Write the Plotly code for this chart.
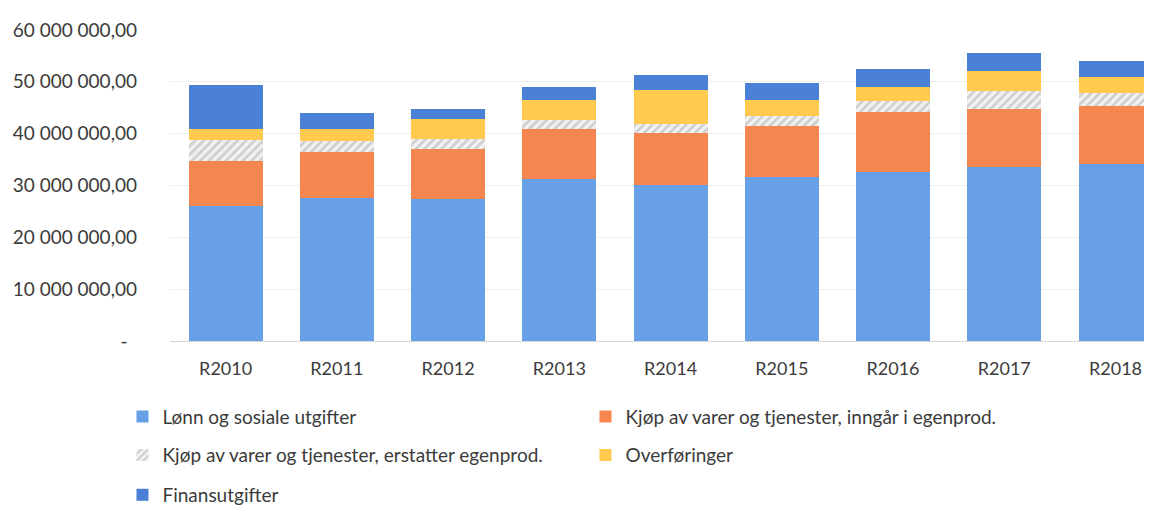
import plotly.graph_objects as go

categories = ["R2010", "R2011", "R2012", "R2013", "R2014", "R2015", "R2016", "R2017", "R2018"]

lonn = [26_060_000, 27_620_000, 27_350_000, 31_180_000, 30_190_000, 31_640_000, 32_550_000, 33_540_000, 34_150_000]
kjop_inngar = [8_700_000, 8_890_000, 9_640_000, 9_640_000, 9_850_000, 9_830_000, 11_620_000, 11_130_000, 11_180_000]
kjop_erstatter = [4_000_000, 2_100_000, 1_910_000, 1_790_000, 1_900_000, 1_900_000, 2_040_000, 3_480_000, 2_540_000]
overforinger = [2_230_000, 2_230_000, 4_000_000, 3_920_000, 6_480_000, 3_180_000, 2_720_000, 3_950_000, 2_990_000]
finans = [8_380_000, 3_160_000, 1_900_000, 2_420_000, 2_910_000, 3_180_000, 3_510_000, 3_540_000, 3_180_000]

series_names = [
    "Lønn og sosiale utgifter",
    "Kjøp av varer og tjenester, inngår i egenprod.",
    "Kjøp av varer og tjenester, erstatter egenprod.",
    "Overføringer",
    "Finansutgifter",
]

y_tick_vals = [0, 10_000_000, 20_000_000, 30_000_000, 40_000_000, 50_000_000, 60_000_000]
y_tick_text = ["-\u2002", "10 000 000,00", "20 000 000,00", "30 000 000,00",
               "40 000 000,00", "50 000 000,00", "60 000 000,00"]

FONT = "Lato"
TXT = "#3b3b3b"

fig = go.Figure()
fig.add_trace(go.Bar(x=categories, y=lonn, name=series_names[0],
                     marker=dict(color="#67a0e6", line=dict(width=0)), legend="legend"))
fig.add_trace(go.Bar(x=categories, y=kjop_inngar, name=series_names[1],
                     marker=dict(color="#f5864f", line=dict(width=0)), legend="legend"))
fig.add_trace(go.Bar(x=categories, y=kjop_erstatter, name=series_names[2],
                     marker=dict(color="#c8c8c8", line=dict(width=0),
                                 pattern=dict(shape="/", fgcolor="#a9a9a9", bgcolor="#f2f2f2",
                                              size=6, solidity=0.45)),
                     legend="legend2"))
fig.add_trace(go.Bar(x=categories, y=overforinger, name=series_names[3],
                     marker=dict(color="#ffca4d", line=dict(width=0)), legend="legend2"))
fig.add_trace(go.Bar(x=categories, y=finans, name=series_names[4],
                     marker=dict(color="#4a80d6", line=dict(width=0)), legend="legend3"))

legend_common = dict(orientation="h", entrywidth=418, entrywidthmode="pixels",
                     x=-0.048, xanchor="left", yanchor="middle",
                     font=dict(family=FONT, size=19, color=TXT),
                     bgcolor="rgba(0,0,0,0)", traceorder="normal")

fig.update_layout(
    width=1152, height=506,
    margin=dict(l=162, r=0, t=22, b=169),
    paper_bgcolor="white", plot_bgcolor="white",
    barmode="stack", bargap=0.335,
    font=dict(family=FONT, size=18, color=TXT),
    showlegend=True,
    legend=dict(y=-0.243, **legend_common),
    legend2=dict(y=-0.367, **legend_common),
    legend3=dict(y=-0.497, **legend_common),
    xaxis=dict(range=[-0.5, 8.4], showline=True, linecolor="#d6d6d6", linewidth=1,
               ticks="", showgrid=False, ticklabelstandoff=11,
               tickfont=dict(family=FONT, size=18, color=TXT)),
    yaxis=dict(range=[0, 60_000_000], tickvals=y_tick_vals, ticktext=y_tick_text,
               showgrid=True, gridcolor="#eeeeee", gridwidth=1, zeroline=False,
               ticks="", ticklabelstandoff=32,
               tickfont=dict(family=FONT, size=19, color=TXT)),
)

fig.write_html("out.html")
